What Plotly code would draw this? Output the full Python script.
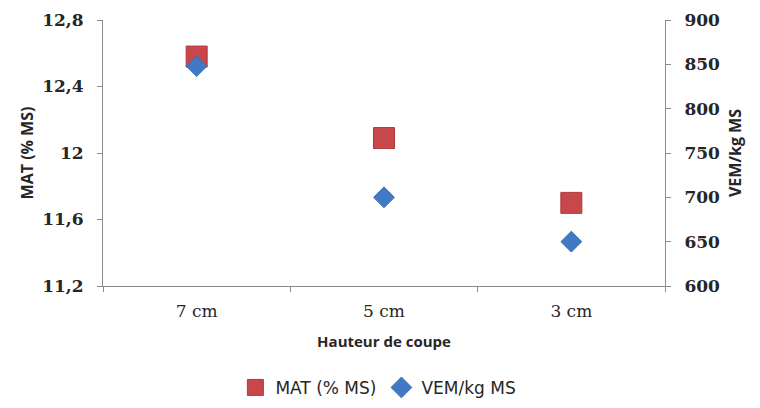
import plotly.graph_objects as go

categories = ["7 cm", "5 cm", "3 cm"]
mat_values = [12.58, 12.09, 11.70]
vem_values = [848, 700, 650]
mat_ticks = [11.2, 11.6, 12.0, 12.4, 12.8]
vem_ticks = [600, 650, 700, 750, 800, 850, 900]

RED = "#C8474A"
BLUE = "#4279C4"
AXIS = "#8C8C8C"
TXT = "#262626"

fig = go.Figure()
fig.add_trace(go.Scatter(
    x=categories, y=mat_values, mode="markers", name="MAT (% MS)",
    marker=dict(symbol="square", size=21, color=RED,
                line=dict(color="#B23A3C", width=1)),
    yaxis="y"))
fig.add_trace(go.Scatter(
    x=categories, y=vem_values, mode="markers", name="VEM/kg MS",
    marker=dict(symbol="diamond", size=16, color=BLUE,
                line=dict(color="#3A6DB3", width=1)),
    yaxis="y2"))

tickfont_y = dict(family="DejaVu Serif", size=17, color=TXT, weight="bold")
titlefont = dict(family="Open Sans, Liberation Sans", size=16, color=TXT, weight="bold")

# the page body has an 8px default margin, so margins are offset by 8px
fig.update_layout(
    width=760, height=408,
    margin=dict(l=95, r=103, t=12, b=130, autoexpand=False),
    paper_bgcolor="white", plot_bgcolor="white",
    separators=", ",
    showlegend=True,
    legend=dict(orientation="h", x=0.49, xanchor="center", y=-0.383, yanchor="middle",
                font=dict(family="DejaVu Sans", size=17, color=TXT),
                itemsizing="trace", itemwidth=30, traceorder="normal"),
    xaxis=dict(
        type="category", range=[-0.5, 2.5], tickson="boundaries", automargin=False,
        showline=True, linecolor=AXIS, linewidth=1,
        ticks="outside", ticklen=5, tickcolor=AXIS,
        showgrid=False, zeroline=False, ticklabelstandoff=10,
        tickfont=dict(family="DejaVu Serif", size=17, color=TXT),
        title=dict(text="Hauteur de coupe", standoff=16,
                   font=dict(family="Open Sans, Liberation Sans", size=15, color=TXT, weight="bold")),
    ),
    yaxis=dict(
        range=[11.2, 12.8], tickvals=mat_ticks, automargin=False,
        showline=True, linecolor=AXIS, linewidth=1,
        ticks="outside", ticklen=5, tickcolor=AXIS,
        showgrid=False, zeroline=False, ticklabelstandoff=10,
        tickfont=tickfont_y,
        title=dict(text="MAT (% MS)", standoff=4, font=titlefont),
    ),
    yaxis2=dict(
        range=[600, 900], tickvals=vem_ticks, overlaying="y", side="right", automargin=False,
        showline=True, linecolor=AXIS, linewidth=1,
        ticks="outside", ticklen=5, tickcolor=AXIS,
        showgrid=False, zeroline=False, ticklabelstandoff=10,
        tickfont=tickfont_y,
        title=dict(text="VEM/kg MS", standoff=10, font=titlefont),
    ),
)

fig.write_html("out.html")
